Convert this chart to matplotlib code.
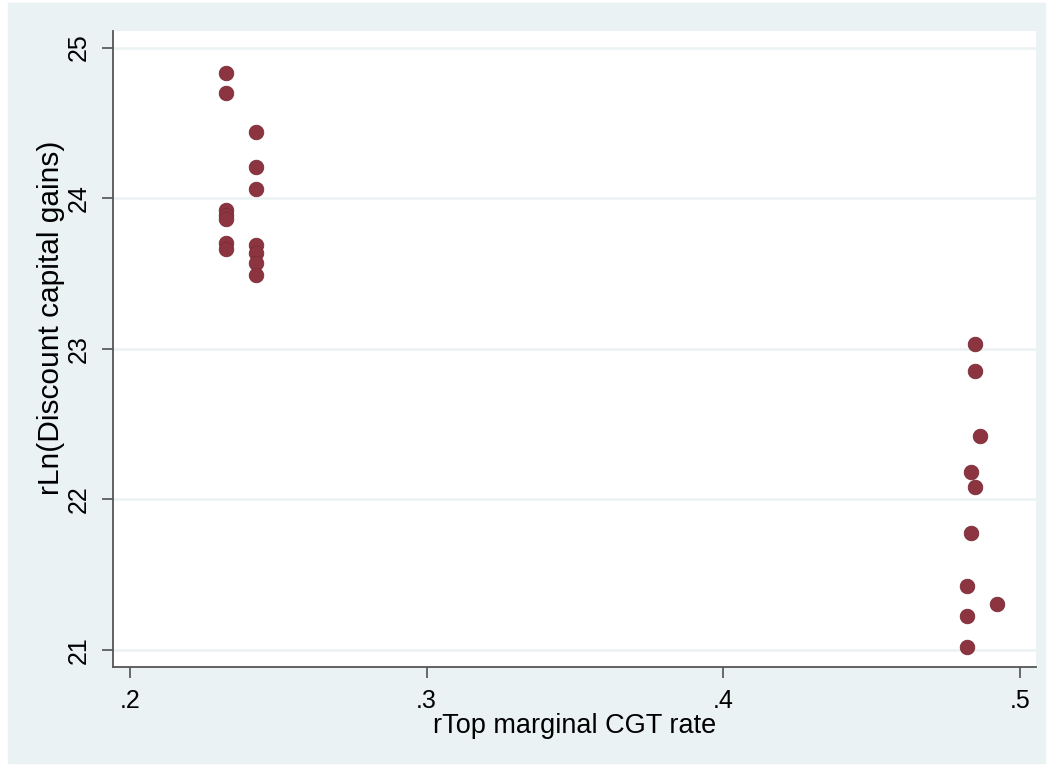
import matplotlib
matplotlib.use('Agg')
import matplotlib.pyplot as plt
import matplotlib.patches as mpatches

plt.rcParams['font.family'] = ['Liberation Sans', 'DejaVu Sans']

# rTop marginal CGT rate vs rLn(Discount capital gains)
rate = [0.2324, 0.2324, 0.2324, 0.2324, 0.2324, 0.2324, 0.2324,
        0.2425, 0.2425, 0.2425, 0.2425, 0.2425, 0.2425, 0.2425,
        0.4848, 0.4848, 0.4867, 0.4837, 0.4848, 0.4837,
        0.4822, 0.4923, 0.4822, 0.4822]
ln_gains = [24.83, 24.70, 23.92, 23.89, 23.86, 23.70, 23.66,
            24.44, 24.21, 24.06, 23.69, 23.635, 23.57, 23.49,
            23.03, 22.855, 22.42, 22.185, 22.085, 21.775,
            21.425, 21.305, 21.225, 21.02]

x_ticks = [0.2, 0.3, 0.4, 0.5]
x_ticklabels = [".2", ".3", ".4", ".5"]
y_ticks = [21, 22, 23, 24, 25]

bg = "#eaf2f3"
fig = plt.figure(figsize=(10.52, 7.68), dpi=100, facecolor="white")
fig.patches.append(mpatches.Rectangle((8 / 1052, 5 / 768), 1037 / 1052, 760 / 768,
                                      transform=fig.transFigure, color=bg, zorder=-10))

ax = fig.add_axes([112.7 / 1052, 1 - 666.7 / 768, (1036 - 112.7) / 1052, (666.7 - 31) / 768])
ax.set_facecolor("white")

ax.scatter(rate, ln_gains, s=110, color="#8c3541", edgecolors="#7a2c37",
           linewidths=0.6, zorder=3)

ax.set_xlim(0.19417, 0.5055)
ax.set_ylim(20.889, 25.11)
ax.set_xticks(x_ticks)
ax.set_xticklabels(x_ticklabels)
ax.set_yticks(y_ticks)
ax.set_yticklabels([str(v) for v in y_ticks], rotation=90, va="center")

ax.grid(axis="y", color=bg, linewidth=1.8, zorder=1)
ax.set_axisbelow(True)

for s in ["top", "right"]:
    ax.spines[s].set_visible(False)
for s in ["left", "bottom"]:
    ax.spines[s].set_color("#555555")
    ax.spines[s].set_linewidth(1.3)

ax.tick_params(axis="both", length=8, width=1.1, color="#444444", pad=8)
ax.tick_params(axis="x", labelsize=18)
ax.tick_params(axis="y", labelsize=18)

ax.set_xlabel("rTop marginal CGT rate", fontsize=19.5, labelpad=0)
ax.set_ylabel("rLn(Discount capital gains)", fontsize=21.5)
ax.yaxis.set_label_coords(-0.052, 0.549)

fig.savefig("out.png", dpi=100, facecolor=fig.get_facecolor())
